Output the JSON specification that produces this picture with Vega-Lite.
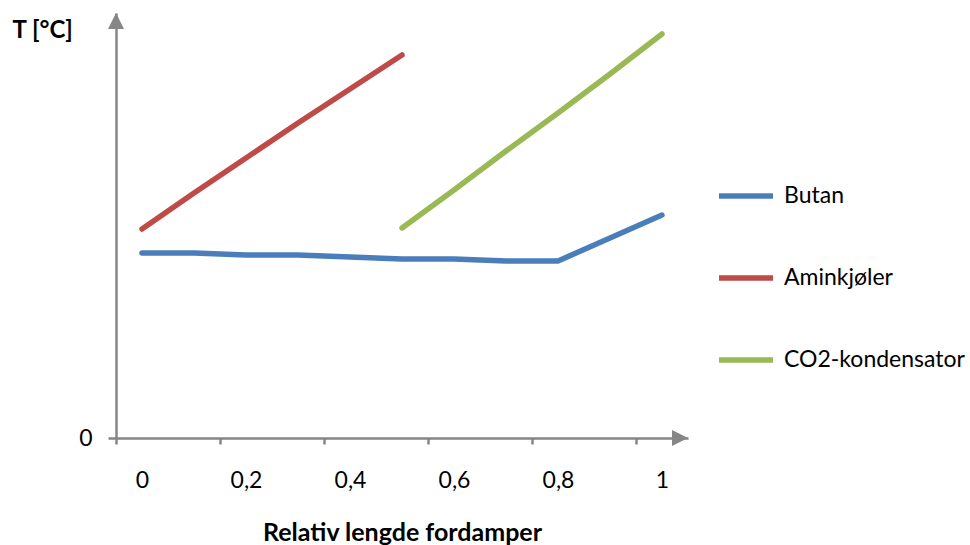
{
  "$schema": "https://vega.github.io/schema/vega-lite/v6.json",
  "width": 572,
  "height": 425,
  "autosize": {"type": "none"},
  "padding": {"left": 116, "top": 13, "right": 282, "bottom": 107},
  "background": "white",
  "config": {"view": {"stroke": null}, "font": "Lato"},
  "datasets": {
    "series": [
      {"series": "Butan", "x": 0, "y": 185},
      {"series": "Butan", "x": 0.1, "y": 185},
      {"series": "Butan", "x": 0.2, "y": 183},
      {"series": "Butan", "x": 0.3, "y": 183},
      {"series": "Butan", "x": 0.4, "y": 181},
      {"series": "Butan", "x": 0.5, "y": 179},
      {"series": "Butan", "x": 0.6, "y": 179},
      {"series": "Butan", "x": 0.7, "y": 177},
      {"series": "Butan", "x": 0.8, "y": 177},
      {"series": "Butan", "x": 0.9, "y": 200},
      {"series": "Butan", "x": 1.0, "y": 223},
      {"series": "Aminkjøler", "x": 0, "y": 209},
      {"series": "Aminkjøler", "x": 0.1, "y": 245},
      {"series": "Aminkjøler", "x": 0.2, "y": 280},
      {"series": "Aminkjøler", "x": 0.3, "y": 315},
      {"series": "Aminkjøler", "x": 0.4, "y": 349},
      {"series": "Aminkjøler", "x": 0.5, "y": 383},
      {"series": "CO2-kondensator", "x": 0.5, "y": 210},
      {"series": "CO2-kondensator", "x": 0.6, "y": 248},
      {"series": "CO2-kondensator", "x": 0.7, "y": 287},
      {"series": "CO2-kondensator", "x": 0.8, "y": 325},
      {"series": "CO2-kondensator", "x": 0.9, "y": 364},
      {"series": "CO2-kondensator", "x": 1.0, "y": 404}
    ],
    "axisEnds": [
      {"axis": "x", "x": 1.05, "y": 0},
      {"axis": "y", "x": -0.05, "y": 425}
    ]
  },
  "layer": [
    {
      "data": {"name": "series"},
      "mark": {"type": "line", "strokeWidth": 5.5, "strokeCap": "round", "strokeJoin": "round"},
      "encoding": {
        "x": {
          "field": "x", "type": "quantitative",
          "scale": {"domain": [-0.05, 1.05], "nice": false, "zero": false},
          "axis": {
            "values": [0, 0.2, 0.4, 0.6, 0.8, 1],
            "format": ".1~f",
            "labelExpr": "replace(datum.label, '.', ',')",
            "grid": false,
            "domainColor": "#868686", "domainWidth": 2.5,
            "tickColor": "#868686", "tickWidth": 2.5, "tickSize": 6,
            "tickOffset": -26, "labelOffset": 26,
            "labelFontSize": 23, "labelColor": "#000000", "labelPadding": 25,
            "labelFlush": false, "labelOverlap": false,
            "title": "Relativ lengde fordamper",
            "titleFontSize": 25, "titleFontWeight": "bold", "titleColor": "#000000",
            "titlePadding": 28
          }
        },
        "y": {
          "field": "y", "type": "quantitative",
          "scale": {"domain": [0, 425], "nice": false},
          "axis": {
            "values": [0],
            "grid": false,
            "domainColor": "#868686", "domainWidth": 2.5,
            "tickColor": "#868686", "tickWidth": 2.5, "tickSize": 8,
            "labelFontSize": 23, "labelColor": "#000000", "labelPadding": 16,
            "title": "T [°C]",
            "titleAngle": 0, "titleX": -104, "titleY": 17,
            "titleAlign": "left", "titleBaseline": "middle",
            "titleFontSize": 24, "titleFontWeight": "bold", "titleColor": "#000000"
          }
        },
        "color": {
          "field": "series", "type": "nominal",
          "scale": {
            "domain": ["Butan", "Aminkjøler", "CO2-kondensator"],
            "range": ["#4A7EBB", "#BE4B48", "#98B954"]
          },
          "legend": {
            "orient": "none", "legendX": 600, "legendY": 153,
            "title": null,
            "symbolType": "stroke", "symbolSize": 2916, "symbolStrokeWidth": 5.5,
            "labelFontSize": 23, "labelColor": "#000000", "labelOffset": 8,
            "labelLimit": 400,
            "rowPadding": 40,
            "padding": 0,
            "symbolOpacity": 1
          }
        }
      }
    },
    {
      "data": {"name": "axisEnds"},
      "transform": [{"filter": "datum.axis == 'x'"}],
      "mark": {"type": "point", "shape": "M0,0 L-2,1 L-2,-1 Z", "size": 256, "filled": true, "color": "#868686", "opacity": 1, "strokeWidth": 0},
      "encoding": {
        "x": {"field": "x", "type": "quantitative"},
        "y": {"field": "y", "type": "quantitative"}
      }
    },
    {
      "data": {"name": "axisEnds"},
      "transform": [{"filter": "datum.axis == 'y'"}],
      "mark": {"type": "point", "shape": "M0,0 L1,2 L-1,2 Z", "size": 256, "filled": true, "color": "#868686", "opacity": 1, "strokeWidth": 0},
      "encoding": {
        "x": {"field": "x", "type": "quantitative"},
        "y": {"field": "y", "type": "quantitative"}
      }
    }
  ]
}
